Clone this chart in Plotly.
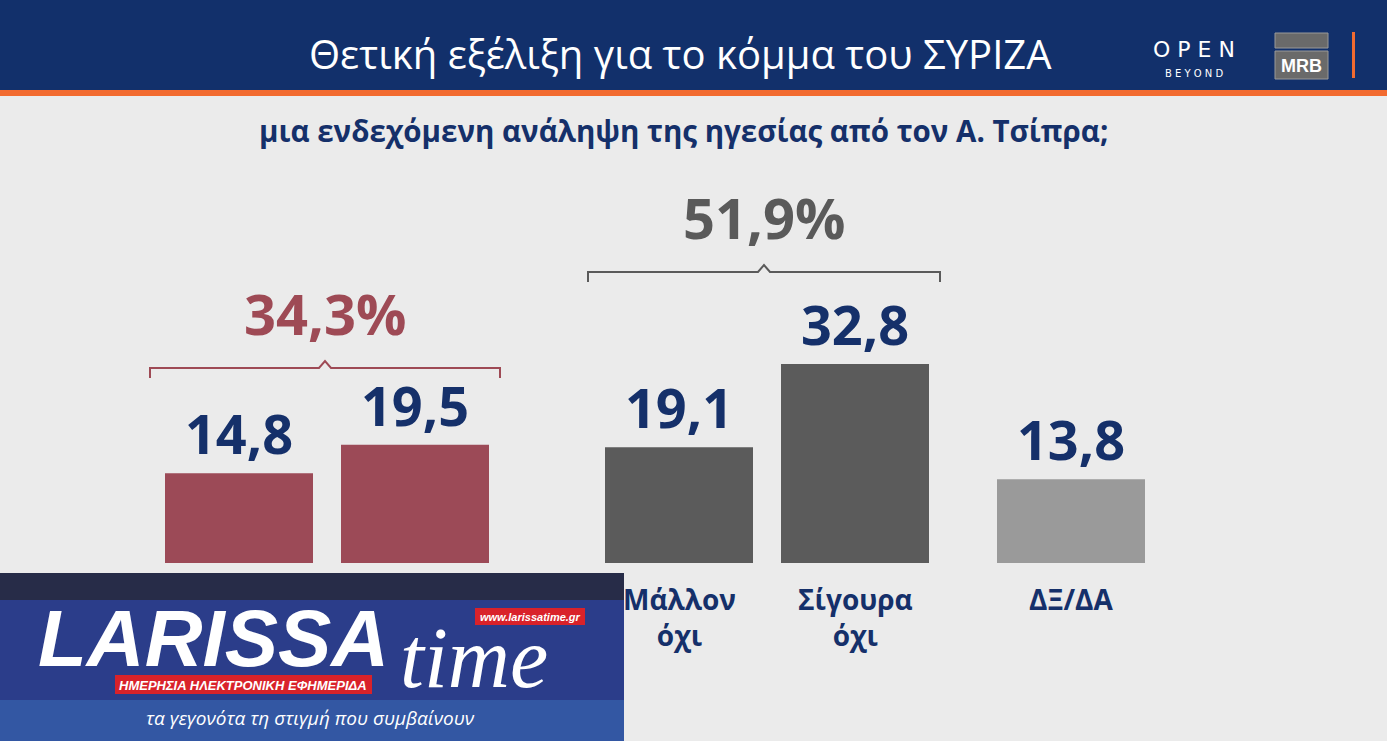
import plotly.graph_objects as go

W, H = 1387, 741

categories = ["Σίγουρα ναι", "Μάλλον ναι", "Μάλλον όχι", "Σίγουρα όχι", "ΔΞ/ΔΑ"]
cat_labels = ["Σίγουρα<br>ναι", "Μάλλον<br>ναι", "Μάλλον<br>όχι", "Σίγουρα<br>όχι", "ΔΞ/ΔΑ"]
values = [14.8, 19.5, 19.1, 32.8, 13.8]
value_text = ["14,8", "19,5", "19,1", "32,8", "13,8"]
group_totals = ["34,3%", "51,9%"]

XPOS = [239, 415, 679, 855, 1071]
COLORS = ["#9c4a57", "#9c4a57", "#5b5b5b", "#5b5b5b", "#9a9a9a"]
NAVY = "#15306a"


def px(x):
    return x / W


def py(y):
    return 1 - y / H


def note(x, y, text, size, color, family="Open Sans", xanchor="center", yanchor="middle"):
    return dict(x=px(x), y=py(y), xref="paper", yref="paper", text=text, showarrow=False,
                xanchor=xanchor, yanchor=yanchor,
                font=dict(family=family, size=size, color=color))


fig = go.Figure()
fig.add_trace(go.Bar(
    x=XPOS, y=values, width=148, marker=dict(color=COLORS, line_width=0),
    text=value_text, textposition="outside", cliponaxis=False,
    textfont=dict(family="Open Sans", size=54, color=NAVY, weight="bold"),
))

shapes = []
annotations = []

# header
shapes.append(dict(type="rect", xref="paper", yref="paper", x0=0, x1=1, y0=py(95), y1=1,
                   fillcolor="#12306b", line_width=0, layer="below"))
shapes.append(dict(type="rect", xref="paper", yref="paper", x0=0, x1=1, y0=py(96), y1=py(90),
                   fillcolor="#f26b30", line_width=0, layer="below"))
shapes.append(dict(type="rect", xref="paper", yref="paper", x0=px(1352), x1=px(1355), y0=py(78), y1=py(32),
                   fillcolor="#f26b30", line_width=0))
shapes.append(dict(type="rect", xref="paper", yref="paper", x0=px(1275), x1=px(1328), y0=py(48), y1=py(33),
                   fillcolor="#6a6a6a", line=dict(color="#999", width=1)))
shapes.append(dict(type="rect", xref="paper", yref="paper", x0=px(1275), x1=px(1328), y0=py(79), y1=py(51),
                   fillcolor="#6a6a6a", line=dict(color="#999", width=1)))
annotations += [
    note(680, 53, "Θετική εξέλιξη για το κόμμα του ΣΥΡΙΖΑ", 40, "white"),
    note(1194, 50, "O P E N", 22, "white", "DejaVu Sans"),
    note(1194, 73, "B E Y O N D", 10, "white", "DejaVu Sans"),
    note(1301, 66, "<b>MRB</b>", 18, "white", "Liberation Sans"),
    note(683, 130, "<b>μια ενδεχόμενη ανάληψη της ηγεσίας από τον Α. Τσίπρα;</b>", 29.5, NAVY),
]

# group braces
for (x0, x1, yb, col, label, ylab) in [(150, 500, 378, "#9e4a55", group_totals[0], 313),
                                       (588, 940, 282, "#5a5a5a", group_totals[1], 217)]:
    xm = (x0 + x1) / 2
    path = (f"M {px(x0)},{py(yb)} L {px(x0)},{py(yb-10)} L {px(xm-6)},{py(yb-10)} "
            f"L {px(xm)},{py(yb-17)} L {px(xm+6)},{py(yb-10)} L {px(x1)},{py(yb-10)} L {px(x1)},{py(yb)}")
    shapes.append(dict(type="path", xref="paper", yref="paper", path=path,
                       line=dict(color=col, width=2)))
    annotations.append(note(xm, ylab, f"<b>{label}</b>", 56, col))

# category labels (first two are hidden under the overlay in the reference)
for x, lab in list(zip(XPOS, cat_labels))[2:]:
    annotations.append(dict(x=x, xref="x", y=py(578), yref="paper", yanchor="top", text=f"<b>{lab}</b>",
                            showarrow=False, font=dict(family="Open Sans", size=28, color=NAVY)))

# LARISSA time overlay
shapes.append(dict(type="rect", xref="paper", yref="paper", x0=0, x1=px(624), y0=0, y1=py(573),
                   fillcolor="#2b3d8a", line_width=0))
shapes.append(dict(type="rect", xref="paper", yref="paper", x0=0, x1=px(624), y0=py(600), y1=py(573),
                   fillcolor="#272c48", line_width=0))
shapes.append(dict(type="rect", xref="paper", yref="paper", x0=0, x1=px(624), y0=0, y1=py(700),
                   fillcolor="#3357a3", line_width=0))
shapes.append(dict(type="rect", xref="paper", yref="paper", x0=px(115), x1=px(372), y0=py(694), y1=py(675),
                   fillcolor="#d9222a", line_width=0))
shapes.append(dict(type="rect", xref="paper", yref="paper", x0=px(475), x1=px(585), y0=py(625), y1=py(608),
                   fillcolor="#d9222a", line_width=0))
annotations += [
    note(36, 638, "<b><i>LARISSA</i></b>", 80, "white", "Liberation Sans", xanchor="left"),
    note(398, 658, "<i>time</i>", 86, "white", "Liberation Serif", xanchor="left"),
    note(243, 685, "<b><i>ΗΜΕΡΗΣΙΑ ΗΛΕΚΤΡΟΝΙΚΗ ΕΦΗΜΕΡΙΔΑ</i></b>", 13, "white", "Liberation Sans"),
    note(530, 617, "<b><i>www.larissatime.gr</i></b>", 11, "white", "Liberation Sans"),
    note(310, 718, "<i>τα γεγονότα τη στιγμή που συμβαίνουν</i>", 19, "white"),
]

fig.update_layout(
    width=W, height=H, margin=dict(l=0, r=0, t=0, b=0),
    paper_bgcolor="#ebebeb", plot_bgcolor="rgba(0,0,0,0)",
    showlegend=False, shapes=shapes, annotations=annotations,
    xaxis=dict(range=[0, W], domain=[0, 1], visible=False),
    yaxis=dict(range=[0, 60], domain=[py(563), py(199)], visible=False),
)

fig.write_html("out.html", config={"displayModeBar": False},
               post_script="document.body.style.margin='0';")
